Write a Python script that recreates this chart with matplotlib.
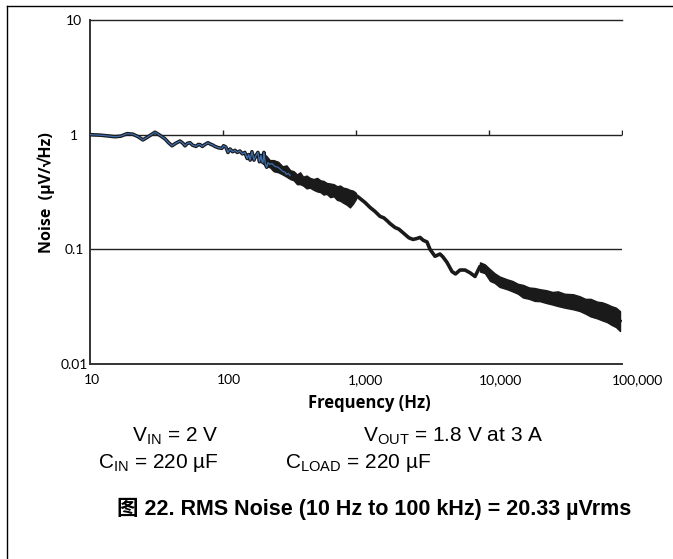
import numpy as np
import matplotlib
matplotlib.use("Agg")
import matplotlib.pyplot as plt
from matplotlib.lines import Line2D
from matplotlib.transforms import ScaledTranslation

plt.rcParams['font.family'] = ['Lato', 'DejaVu Sans', 'Noto Sans CJK SC']
plt.rcParams['mathtext.default'] = 'regular'

freq_hz = [10, 12, 15.4, 17, 19, 21, 23, 25, 27, 30.8, 33, 36.6, 39, 41.4, 44, 47.5,
           50, 51.8, 54, 56.5, 59, 62.7, 65, 67.1, 70, 73, 77.1, 80, 84, 87, 92, 98,
           101, 105, 109, 113, 118, 123, 128, 134, 140, 146, 152, 156, 160, 165, 171,
           176, 183, 188, 193, 196, 200, 203, 208, 213, 218, 225, 233, 245, 259, 270,
           280, 293, 300, 310, 319, 335, 348, 360, 379, 400, 425, 451, 480, 510, 536,
           570, 600, 638, 680, 720, 759, 800, 850, 902, 950, 1019, 1170, 1275, 1390,
           1515, 1620, 1711, 1800, 1965, 2100, 2335, 2500, 2685, 2850, 3030, 3200,
           3418, 3600, 3925, 4100, 4283, 4500, 4831, 5272, 5600, 6053, 6600, 7195,
           7850, 8555, 9330, 10180, 11490, 13190, 15680, 18650, 22170, 26350, 31330,
           37250, 44330, 52700, 62670, 74510, 84100, 96600]
noise = [1.00, 0.99, 0.96, 0.97, 1.02, 1.01, 0.96, 0.90, 0.95, 1.05, 1.00, 0.92, 0.85,
         0.80, 0.84, 0.88, 0.84, 0.80, 0.84, 0.85, 0.81, 0.79, 0.82, 0.82, 0.79, 0.82,
         0.85, 0.83, 0.81, 0.79, 0.77, 0.76, 0.80, 0.78, 0.70, 0.75, 0.71, 0.73, 0.70,
         0.72, 0.68, 0.70, 0.62, 0.67, 0.60, 0.71, 0.60, 0.65, 0.70, 0.58, 0.66, 0.59,
         0.57, 0.70, 0.56, 0.52, 0.57, 0.55, 0.56, 0.53, 0.52, 0.50, 0.48, 0.47, 0.45,
         0.46, 0.44, 0.43, 0.42, 0.41, 0.41, 0.40, 0.39, 0.385, 0.37, 0.36, 0.355,
         0.345, 0.34, 0.33, 0.325, 0.315, 0.31, 0.30, 0.29, 0.28, 0.28, 0.291, 0.256,
         0.232, 0.214, 0.194, 0.188, 0.178, 0.168, 0.155, 0.150, 0.135, 0.126, 0.122,
         0.124, 0.127, 0.120, 0.116, 0.100, 0.087, 0.089, 0.091, 0.086, 0.077, 0.064,
         0.061, 0.066, 0.066, 0.0625, 0.058, 0.071, 0.068, 0.060, 0.053, 0.0495,
         0.046, 0.043, 0.040, 0.0385, 0.037, 0.0355, 0.0345, 0.032, 0.030, 0.028,
         0.026, 0.0237]

# spread of the noisy parts of the trace
band_lo_freq = [200, 210, 225, 240, 260, 280, 300, 320, 340, 360, 380, 400, 425, 450,
                480, 510, 540, 570, 600, 640, 680, 720, 760, 800, 850, 900, 950, 1000]
band_lo_upper = [0.66, 0.66, 0.60, 0.60, 0.58, 0.53, 0.54, 0.49, 0.48, 0.45, 0.47, 0.43,
                 0.44, 0.42, 0.41, 0.42, 0.40, 0.395, 0.38, 0.375, 0.37, 0.355, 0.36,
                 0.345, 0.34, 0.33, 0.325, 0.31]
band_lo_lower = [0.56, 0.53, 0.52, 0.48, 0.47, 0.45, 0.43, 0.41, 0.40, 0.37, 0.37, 0.36,
                 0.34, 0.345, 0.33, 0.32, 0.315, 0.30, 0.305, 0.285, 0.29, 0.27, 0.265,
                 0.255, 0.245, 0.232, 0.25, 0.275]
band_hi_freq = [8555, 9300, 10180, 11000, 12000, 13650, 15000, 16500, 18000, 20000, 22000,
                24150, 27000, 30000, 33000, 37000, 42850, 48000, 53000, 58000, 65000,
                71000, 77100, 83000, 90000, 96600]
band_hi_upper = [0.077, 0.074, 0.067, 0.062, 0.058, 0.0548, 0.053, 0.050, 0.049, 0.0465,
                 0.046, 0.0449, 0.044, 0.0425, 0.043, 0.041, 0.0406, 0.039, 0.037, 0.037,
                 0.035, 0.0345, 0.0333, 0.032, 0.031, 0.0289]
band_hi_lower = [0.064, 0.062, 0.053, 0.051, 0.047, 0.0449, 0.043, 0.041, 0.038, 0.037,
                 0.0355, 0.0353, 0.034, 0.033, 0.032, 0.031, 0.0300, 0.029, 0.0275, 0.026,
                 0.025, 0.024, 0.0232, 0.022, 0.021, 0.0194]

x_ticks = [10, 100, 1000, 10000, 100000]
x_labels = ['10', '100', '1,000', '10,000', '100,000']
y_ticks = [0.01, 0.1, 1, 10]
y_labels = ['0.01', '0.1', '1', '10']

fig = plt.figure(figsize=(6.73, 5.59), dpi=100)
ax = fig.add_axes([90 / 673, 1 - 364 / 559, 532 / 673, 344 / 559])
ax.set_xscale('log')
ax.set_yscale('log')
ax.set_xlim(10, 100000)
ax.set_ylim(0.01, 10)

# grid lines
for yv in y_ticks[1:3]:
    ax.axhline(yv, color='#222222', lw=1.0, zorder=1)
ax.plot(x_ticks[1:], [1] * 4, ls='none', marker=2, ms=3.5, mew=1.0, color='#222222')

# trace
f = np.array(freq_hz)
n = np.array(noise)
ax.fill_between(band_lo_freq, band_lo_lower, band_lo_upper, color='#1a1a1a', lw=1.0, zorder=3)
ax.fill_between(band_hi_freq, band_hi_lower, band_hi_upper, color='#1a1a1a', lw=1.0, zorder=3)
ax.plot(f, n, color='#1a1a1a', lw=2.6, zorder=4, solid_joinstyle='round')
mask = f <= 320
ax.plot(f[mask], n[mask], color='#3d6fb0', lw=0.9, zorder=5)

ax.spines['right'].set_visible(False)
ax.spines['top'].set_color('#222222')
ax.spines['top'].set_linewidth(1.0)
for side in ['left', 'bottom']:
    ax.spines[side].set_color('#333333')
    ax.spines[side].set_linewidth(1.4)

ax.set_xticks(x_ticks)
ax.set_xticklabels(x_labels)
ax.set_yticks(y_ticks)
ax.set_yticklabels(y_labels)
ax.minorticks_off()
ax.tick_params(axis='both', length=0, labelsize=10, colors='black')
ax.tick_params(axis='x', pad=7)
ax.tick_params(axis='y', pad=11.5)
for lbl in ax.get_yticklabels():
    lbl.set_horizontalalignment('center')
for lbl, dx in zip(ax.get_xticklabels(), [2, 6, 9, 11, 15]):
    lbl.set_transform(lbl.get_transform() + ScaledTranslation(dx / 100, 0, fig.dpi_scale_trans))

fig.text(46 / 673, 1 - 193 / 559, 'Noise  (µV/√Hz)', rotation=90, ha='center', va='center',
         fontsize=11.5, fontweight='bold', family=['Open Sans', 'DejaVu Sans'])
fig.text(369 / 673, 1 - 403 / 559, 'Frequency (Hz)', ha='center', va='center',
         fontsize=12, fontweight='bold', family=['Open Sans', 'DejaVu Sans'])

cond = dict(fontsize=15, family=['Liberation Sans', 'DejaVu Sans'], va='baseline', ha='left')
fig.text(132 / 673, 1 - 442 / 559, r'V$_{\mathregular{IN}}$ = 2 V', **cond)
fig.text(363 / 673, 1 - 442 / 559, r'V$_{\mathregular{OUT}}$ = 1.8 V at 3 A', **cond)
fig.text(98 / 673, 1 - 468 / 559, r'C$_{\mathregular{IN}}$ = 220 µF', **cond)
fig.text(285 / 673, 1 - 468 / 559, r'C$_{\mathregular{LOAD}}$ = 220 µF', **cond)
fig.text(117 / 673, 1 - 515 / 559, '图 22. RMS Noise (10 Hz to 100 kHz) = 20.33 µVrms',
         fontsize=15.5, fontweight='bold', va='baseline', ha='left',
         family=['Liberation Sans', 'Noto Sans CJK SC'])

# outer frame
fig.add_artist(Line2D([7 / 673, 7 / 673], [0, 1 - 6 / 559], transform=fig.transFigure,
                      color='black', lw=1.0))
fig.add_artist(Line2D([7 / 673, 1], [1 - 6 / 559, 1 - 6 / 559], transform=fig.transFigure,
                      color='black', lw=1.0))

fig.savefig('out.png', dpi=100)
